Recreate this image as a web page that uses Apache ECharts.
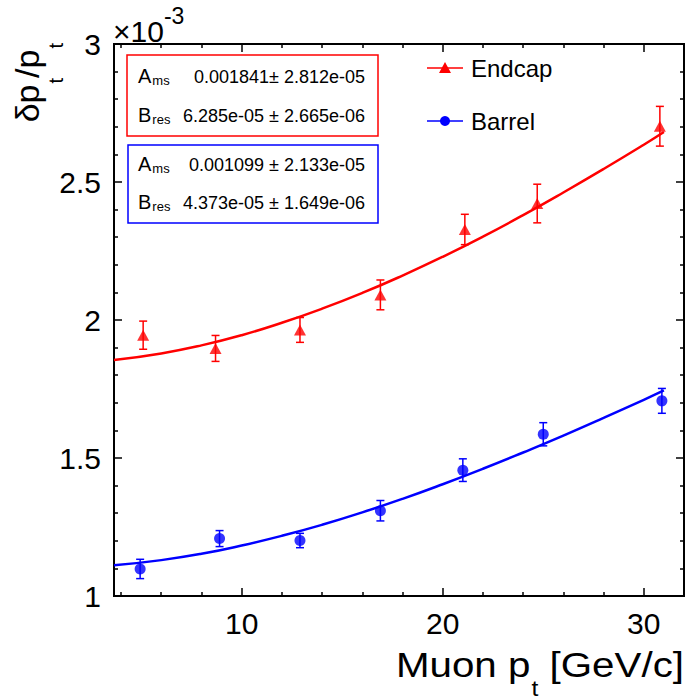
<!DOCTYPE html>
<html>
<head>
<meta charset="utf-8">
<script src="https://cdn.jsdelivr.net/npm/echarts@6/dist/echarts.min.js"></script>
<style>html,body{margin:0;padding:0;background:#fff;}#main{width:686px;height:700px;}</style>
</head>
<body>
<div id="main"></div>
<script>
// ---- data (y values in units of 10^-3) ----
const xBarrel = [4.95, 8.9, 12.9, 16.9, 21.0, 25.0, 30.9];
const yBarrel = [1.098, 1.208, 1.201, 1.309, 1.456, 1.586, 1.707];
const eBarrel = [0.035, 0.029, 0.026, 0.037, 0.041, 0.042, 0.045];
const xEndcap = [5.1, 8.7, 12.9, 16.9, 21.1, 24.7, 30.8];
const yEndcap = [1.945, 1.897, 1.964, 2.091, 2.328, 2.422, 2.702];
const eEndcap = [0.051, 0.047, 0.045, 0.054, 0.055, 0.070, 0.072];
const fitX = [3.65, 6, 8, 10, 12, 14, 16, 18, 20, 22, 24, 26, 28, 30, 31];
const fitEndcap = [1.855, 1.879, 1.908, 1.945, 1.990, 2.041, 2.098, 2.161, 2.229, 2.302, 2.380, 2.462, 2.547, 2.635, 2.681];
const fitBarrel = [1.111, 1.130, 1.153, 1.183, 1.218, 1.258, 1.303, 1.352, 1.405, 1.461, 1.520, 1.581, 1.645, 1.711, 1.745];
const xMajorTicks = [10, 20, 30];
const xMinorTicks = [4, 6, 8, 12, 14, 16, 18, 22, 24, 26, 28];
const statEndcap = {A: '0.001841\u00b1 2.812e-05', B: '6.285e-05 \u00b1 2.665e-06'};
const statBarrel = {A: '0.001099 \u00b1 2.133e-05', B: '4.373e-05 \u00b1 1.649e-06'};

const FONT = '"Liberation Sans", Arial, Helvetica, sans-serif';
const RED = '#ff0000', BLUE = '#0000ff';

function zip(xs, ys) { return xs.map((x, i) => [x, ys[i]]); }
function zip3(xs, ys, es) { return xs.map((x, i) => [x, ys[i], es[i]]); }

function errRender(color) {
  return function (params, api) {
    const x = api.value(0), y = api.value(1), e = api.value(2);
    const lo = api.coord([x, y - e]), hi = api.coord([x, y + e]);
    const c = 4;
    const st = {stroke: color, lineWidth: 1.5};
    return {type: 'group', children: [
      {type: 'line', shape: {x1: lo[0], y1: lo[1], x2: hi[0], y2: hi[1]}, style: st},
      {type: 'line', shape: {x1: lo[0] - c, y1: lo[1], x2: lo[0] + c, y2: lo[1]}, style: st},
      {type: 'line', shape: {x1: hi[0] - c, y1: hi[1], x2: hi[0] + c, y2: hi[1]}, style: st}
    ]};
  };
}

const XMIN = 3.65, XMAX = 32;
function xAxisDef(pos, ticks, len, labels) {
  return {
    type: 'value', position: pos, min: XMIN, max: XMAX,
    axisLine: {show: false},
    splitLine: {show: false},
    axisTick: {show: true, inside: true, length: len, customValues: ticks, lineStyle: {color: '#000', width: 1.5}},
    axisLabel: labels ? {show: true, customValues: ticks, fontSize: 30, fontFamily: FONT, color: '#000', margin: 12} : {show: false}
  };
}
function yAxisDef(pos, labels) {
  return {
    type: 'value', position: pos, min: 1, max: 3, interval: 0.5,
    axisLine: {show: false},
    splitLine: {show: false},
    axisTick: {show: true, inside: true, length: 8, lineStyle: {color: '#000', width: 1.5}},
    minorTick: {show: true, splitNumber: 5, length: 4, lineStyle: {color: '#000', width: 1.5}},
    axisLabel: labels ? {show: true, fontSize: 30, fontFamily: FONT, color: '#000', margin: 13} : {show: false}
  };
}

const subRich = (main, sub, pad) => ({
  m: {fontSize: main, fontFamily: FONT, color: '#000', verticalAlign: 'top'},
  s: {fontSize: sub, fontFamily: FONT, color: '#000', verticalAlign: 'top', padding: [pad, 0, 0, 1]}
});

const chart = echarts.init(document.getElementById('main'), null, {renderer: 'svg'});
chart.setOption({
  animation: false,
  backgroundColor: '#fff',
  grid: {left: 114, right: 2, top: 44, bottom: 104, show: true, borderColor: '#000', borderWidth: 2, backgroundColor: 'transparent'},
  xAxis: [
    xAxisDef('bottom', xMajorTicks, 8, true),
    xAxisDef('bottom', xMinorTicks, 4, false),
    xAxisDef('top', xMajorTicks, 8, false),
    xAxisDef('top', xMinorTicks, 4, false)
  ],
  yAxis: [yAxisDef('left', true), yAxisDef('right', false)],
  series: [
    {name: 'Endcap fit', type: 'line', data: zip(fitX, fitEndcap), smooth: true, showSymbol: false, lineStyle: {color: RED, width: 2.5}, z: 2},
    {name: 'Barrel fit', type: 'line', data: zip(fitX, fitBarrel), smooth: true, showSymbol: false, lineStyle: {color: BLUE, width: 2.5}, z: 2},
    {name: 'Endcap err', type: 'custom', renderItem: errRender(RED), data: zip3(xEndcap, yEndcap, eEndcap), z: 3},
    {name: 'Barrel err', type: 'custom', renderItem: errRender(BLUE), data: zip3(xBarrel, yBarrel, eBarrel), z: 3},
    {name: 'Endcap', type: 'scatter', symbol: 'triangle', symbolSize: [12, 11], itemStyle: {color: RED}, data: zip(xEndcap, yEndcap), z: 4},
    {name: 'Barrel', type: 'scatter', symbol: 'circle', symbolSize: 11, itemStyle: {color: BLUE}, data: zip(xBarrel, yBarrel), z: 4}
  ],
  graphic: [
    // y-axis title
    {type: 'text', x: 10, y: 43, rotation: Math.PI / 2, style: {text: '{m|\u03b4p}{s|t}{m|/p}{s|t}', align: 'right', verticalAlign: 'top', rich: subRich(34, 20, 36)}},
    // x-axis title
    {type: 'text', x: 684, y: 646, scaleX: 1.12, style: {text: '{m|Muon p}{s|t}{m| [GeV/c]}', align: 'right', verticalAlign: 'top', rich: subRich(36, 22, 31)}},
    // exponent
    {type: 'text', x: 113, y: 4, style: {text: '{m|\u00d710}{p|-3}', align: 'left', verticalAlign: 'top', rich: {
      m: {fontSize: 30, fontFamily: FONT, color: '#000', verticalAlign: 'top', padding: [12, 0, 0, 0]},
      p: {fontSize: 23, fontFamily: FONT, color: '#000', verticalAlign: 'top'}
    }}},
    // stat boxes
    {type: 'rect', shape: {x: 127, y: 55, width: 251, height: 81}, style: {fill: 'none', stroke: RED, lineWidth: 1.5}},
    {type: 'rect', shape: {x: 128, y: 145, width: 250, height: 78}, style: {fill: 'none', stroke: BLUE, lineWidth: 1.5}},
    {type: 'text', x: 138, y: 66, style: {text: '{m|A}{s|ms}', rich: subRich(20, 13, 8)}},
    {type: 'text', x: 138, y: 105, style: {text: '{m|B}{s|res}', rich: subRich(20, 13, 8)}},
    {type: 'text', x: 138, y: 154, style: {text: '{m|A}{s|ms}', rich: subRich(20, 13, 8)}},
    {type: 'text', x: 138, y: 192, style: {text: '{m|B}{s|res}', rich: subRich(20, 13, 8)}},
    {type: 'text', x: 365, y: 77, style: {text: statEndcap.A, align: 'right', verticalAlign: 'middle', font: '18px ' + FONT, fill: '#000'}},
    {type: 'text', x: 365, y: 116, style: {text: statEndcap.B, align: 'right', verticalAlign: 'middle', font: '18px ' + FONT, fill: '#000'}},
    {type: 'text', x: 365, y: 165, style: {text: statBarrel.A, align: 'right', verticalAlign: 'middle', font: '18px ' + FONT, fill: '#000'}},
    {type: 'text', x: 365, y: 203, style: {text: statBarrel.B, align: 'right', verticalAlign: 'middle', font: '18px ' + FONT, fill: '#000'}},
    // legend
    {type: 'line', shape: {x1: 427, y1: 68, x2: 463, y2: 68}, style: {stroke: RED, lineWidth: 1.5}},
    {type: 'polygon', shape: {points: [[445, 62], [451, 73], [439, 73]]}, style: {fill: RED}},
    {type: 'text', x: 471, y: 68, style: {text: 'Endcap', verticalAlign: 'middle', font: '24px ' + FONT, fill: '#000'}},
    {type: 'line', shape: {x1: 427, y1: 121, x2: 463, y2: 121}, style: {stroke: BLUE, lineWidth: 1.5}},
    {type: 'circle', shape: {cx: 445, cy: 121, r: 5}, style: {fill: BLUE}},
    {type: 'text', x: 471, y: 121, style: {text: 'Barrel', verticalAlign: 'middle', font: '24px ' + FONT, fill: '#000'}}
  ]
});
</script>
</body>
</html>
